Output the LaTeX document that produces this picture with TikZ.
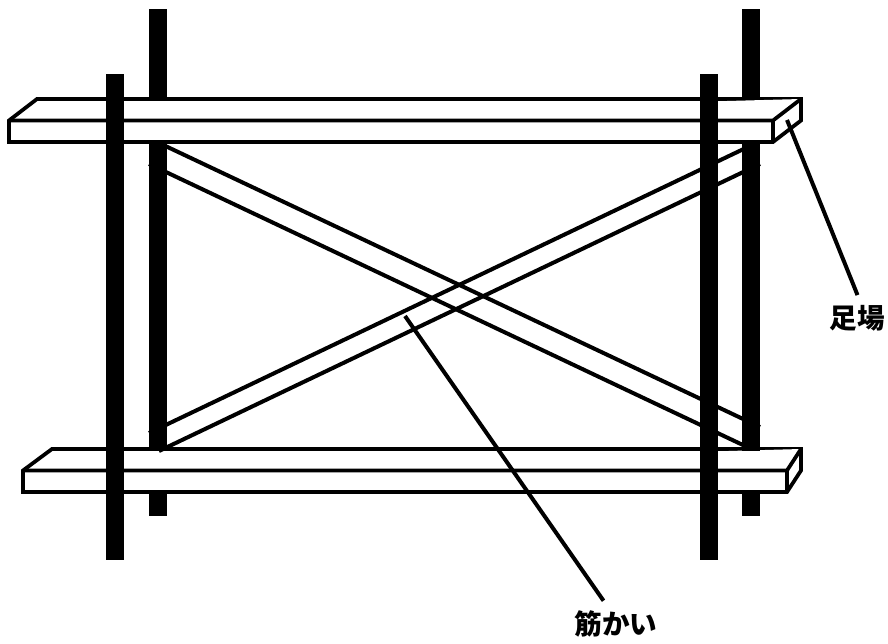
\documentclass[tikz,border=0pt]{standalone}
\usepackage{fontspec}
\newfontfamily\cjk{Noto Sans CJK JP}
\tikzset{
  post/.style={fill=black},
  plank/.style={draw=black,fill=white,line width=0.075cm,line join=miter},
  brace/.style={draw=black,line width=0.08cm},
  leader/.style={draw=black,line width=0.08cm},
  tag/.style={font=\cjk\bfseries\fontsize{15.7pt}{17pt}\selectfont,inner sep=0pt,outer sep=0pt,text=black}
}
\begin{document}
\begin{tikzpicture}[x=0.02cm,y=-0.02cm]
\useasboundingbox (0,0) rectangle (888,644);
% Rear posts
\fill[post] (149,9) rectangle (167,516);
\fill[post] (742,9) rectangle (760,516);
% Upper plank
\draw[plank] (9,120.5) -- (37,99) -- (801,99) -- (801,120.5) -- (773,142) -- (9,142) -- cycle;
\draw[plank] (9,120.5) -- (773,120.5) -- (801,99);
\draw[plank] (773,120.5) -- (773,142);
% Lower plank
\draw[plank] (23,470.5) -- (52,449) -- (801,449) -- (801,470.5) -- (787,492) -- (23,492) -- cycle;
\draw[plank] (23,470.5) -- (787,470.5) -- (801,449);
\draw[plank] (787,470.5) -- (787,492);
% Rear posts show again between the planks
\fill[post] (149,140) rectangle (167,451);
\fill[post] (742,140) rectangle (760,451);
% Braces
\draw[brace] (158,142.5) -- (760,427);
\draw[brace] (149,164) -- (745,446);
\draw[brace] (149,433) -- (752,145);
\draw[brace] (159,451) -- (760,164);
% Front posts
\fill[post] (106,74) rectangle (124,560);
\fill[post] (700,74) rectangle (718,560);
% Labels and leaders
\node[tag] (scaffoldtag) at (857.5,318) {足場};
\node[tag] (bracetag) at (616,624) {筋かい};
\coordinate (scaffoldtip) at (787,120);
\coordinate (bracetip) at (405,316);
\coordinate (scaffoldend) at ([yshift=0.2cm]scaffoldtag.north);
\coordinate (braceend) at ([xshift=-0.25cm,yshift=0.2cm]bracetag.north);
\draw[leader] (scaffoldtip) -- (scaffoldend);
\draw[leader] (bracetip) -- (braceend);
\end{tikzpicture}
\end{document}
